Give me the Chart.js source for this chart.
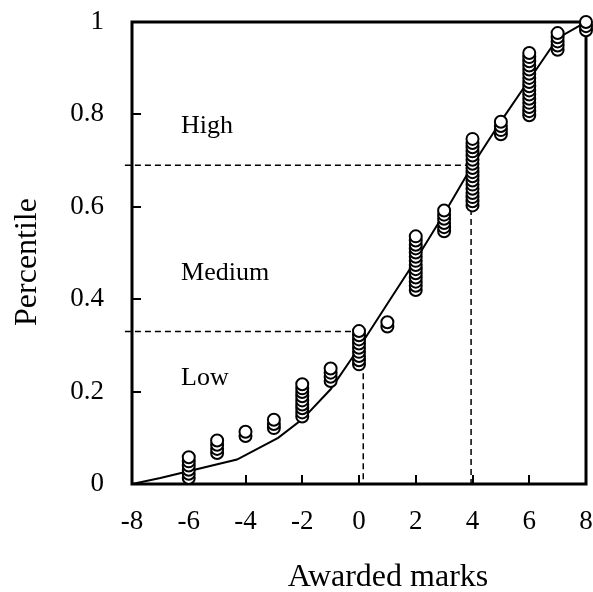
<!DOCTYPE html>
<html>
<head>
<meta charset="utf-8">
<script src="https://cdn.jsdelivr.net/npm/chart.js@4.4.1/dist/chart.umd.min.js"></script>
<style>
  html, body { margin: 0; padding: 0; background: #ffffff; }
  #wrap { width: 593px; height: 592px; }
</style>
</head>
<body>
<div id="wrap"><canvas id="chart" width="593" height="592"></canvas></div>
<script>
// Awarded marks that received at least one response
const marks = [-6, -5, -4, -3, -2, -1, 0, 1, 2, 3, 4, 5, 6, 7, 8];

// Percentile of every individual response, grouped by its awarded mark
const percentiles = [
  [0.013, 0.022, 0.031, 0.040, 0.049, 0.058],
  [0.067, 0.076, 0.085, 0.094],
  [0.104, 0.113],
  [0.121, 0.130, 0.139],
  [0.146, 0.155, 0.164, 0.172, 0.181, 0.190, 0.199, 0.207, 0.216],
  [0.223, 0.232, 0.241, 0.250],
  [0.259, 0.268, 0.277, 0.286, 0.295, 0.304, 0.313, 0.322, 0.331],
  [0.341, 0.350],
  [0.420, 0.429, 0.438, 0.447, 0.456, 0.465, 0.474, 0.483, 0.492, 0.501, 0.510, 0.518, 0.527, 0.536],
  [0.547, 0.556, 0.565, 0.574, 0.583, 0.592],
  [0.603, 0.612, 0.621, 0.630, 0.639, 0.648, 0.657, 0.666, 0.675, 0.684, 0.693, 0.702, 0.711, 0.720, 0.729, 0.738, 0.747],
  [0.757, 0.766, 0.775, 0.784],
  [0.798, 0.807, 0.816, 0.825, 0.834, 0.843, 0.852, 0.861, 0.870, 0.879, 0.888, 0.897, 0.906, 0.915, 0.924, 0.933],
  [0.940, 0.949, 0.958, 0.967, 0.976],
  [0.982, 0.991, 1.000]
];

// Smoothed cumulative distribution curve
const curveX = [-8, -7, -4.3, -2.85, -2, -1, 0, 1, 2, 3, 4, 5, 6, 7, 8];
const curveY = [0, 0.013, 0.053, 0.100, 0.140, 0.205, 0.295, 0.390, 0.485, 0.585, 0.690, 0.785, 0.875, 0.965, 1.000];

// Band boundaries: percentile cut and the mark where it is reached
const cutPercentiles = [0.33, 0.69];
const cutMarks = [0.15, 3.95];
const cutStartMark = -8.25;

// Band names
const bandNames = ['Low', 'Medium', 'High'];

// Axis tick values
const xTicks = [-8, -6, -4, -2, 0, 2, 4, 6, 8];
const yTicks = [0, 0.2, 0.4, 0.6, 0.8, 1];

const FONT = '"Liberation Serif", "Times New Roman", serif';

const responsePoints = [];
marks.forEach((m, i) => {
  percentiles[i].forEach(p => responsePoints.push({ x: m, y: p }));
});

const curvePoints = curveX.map((x, i) => ({ x: x, y: curveY[i] }));

const cutLines = cutPercentiles.map((p, i) => [
  { x: cutStartMark, y: p },
  { x: cutMarks[i], y: p },
  { x: cutMarks[i], y: 0 }
]);

// Frame round the plot area plus inward tick marks
const framePlugin = {
  id: 'frame',
  beforeDatasetsDraw(chart) {
    const { ctx, chartArea: a, scales } = chart;
    ctx.save();
    ctx.strokeStyle = '#000';
    ctx.lineWidth = 3;
    ctx.lineJoin = 'miter';
    ctx.strokeRect(a.left, a.top, a.right - a.left, a.bottom - a.top);
    ctx.lineWidth = 2;
    ctx.beginPath();
    xTicks.forEach(v => {
      const px = Math.round(scales.x.getPixelForValue(v));
      ctx.moveTo(px, a.bottom);
      ctx.lineTo(px, a.bottom - 9);
    });
    yTicks.forEach(v => {
      const py = Math.round(scales.y.getPixelForValue(v));
      ctx.moveTo(a.left, py);
      ctx.lineTo(a.left + 9, py);
    });
    ctx.stroke();
    ctx.restore();
  }
};

// Band names written inside the plot
const bandLabelPlugin = {
  id: 'bandLabels',
  afterDatasetsDraw(chart, args, opts) {
    const { ctx, scales } = chart;
    ctx.save();
    ctx.fillStyle = '#000';
    ctx.font = opts.font;
    ctx.textAlign = 'left';
    ctx.textBaseline = 'alphabetic';
    opts.positions.forEach((pos, i) => {
      ctx.fillText(bandNames[i], scales.x.getPixelForValue(pos.x), scales.y.getPixelForValue(pos.y));
    });
    ctx.restore();
  }
};

// Axis titles
const axisTitlePlugin = {
  id: 'axisTitles',
  afterDraw(chart, args, opts) {
    const { ctx } = chart;
    ctx.save();
    ctx.fillStyle = '#000';
    ctx.font = opts.font;
    ctx.textAlign = 'center';
    ctx.textBaseline = 'alphabetic';
    ctx.fillText(opts.x.text, opts.x.cx, opts.x.baseline);
    ctx.translate(opts.y.baseline, opts.y.cy);
    ctx.rotate(-Math.PI / 2);
    ctx.fillText(opts.y.text, 0, 0);
    ctx.restore();
  }
};

new Chart(document.getElementById('chart'), {
  type: 'scatter',
  data: {
    datasets: [
      {
        label: 'Responses',
        data: responsePoints,
        order: 0,
        pointRadius: 6,
        pointHoverRadius: 6,
        pointBorderWidth: 2,
        pointBackgroundColor: '#ffffff',
        pointBorderColor: '#000000',
        showLine: false,
        clip: false
      },
      {
        label: 'Cumulative',
        type: 'line',
        data: curvePoints,
        order: 1,
        borderColor: '#000000',
        borderWidth: 2,
        pointRadius: 0,
        pointHoverRadius: 0,
        tension: 0,
        fill: false
      },
      {
        label: 'Low cut',
        type: 'line',
        data: cutLines[0],
        order: 2,
        borderColor: '#000000',
        borderWidth: 1.5,
        borderDash: [6, 4],
        pointRadius: 0,
        pointHoverRadius: 0,
        fill: false,
        clip: false
      },
      {
        label: 'High cut',
        type: 'line',
        data: cutLines[1],
        order: 2,
        borderColor: '#000000',
        borderWidth: 1.5,
        borderDash: [6, 4],
        pointRadius: 0,
        pointHoverRadius: 0,
        fill: false,
        clip: false
      }
    ]
  },
  options: {
    responsive: false,
    animation: false,
    events: [],
    layout: { autoPadding: false, padding: { left: 0, right: 7, top: 22, bottom: 0 } },
    scales: {
      x: {
        type: 'linear',
        min: -8,
        max: 8,
        afterBuildTicks(scale) { scale.ticks = xTicks.map(v => ({ value: v })); },
        afterFit(scale) {
          scale.height = 108;
          scale.paddingLeft = 0;
          scale.paddingRight = 0;
        },
        grid: { display: false, drawTicks: false },
        border: { display: false },
        ticks: {
          color: '#000',
          padding: 22,
          font: { family: FONT, size: 27 },
          callback: v => String(v)
        }
      },
      y: {
        type: 'linear',
        min: 0,
        max: 1,
        afterBuildTicks(scale) { scale.ticks = yTicks.map(v => ({ value: v })); },
        afterFit(scale) {
          scale.width = 132;
          scale.paddingTop = 0;
          scale.paddingBottom = 0;
        },
        grid: { display: false, drawTicks: false },
        border: { display: false },
        ticks: {
          color: '#000',
          padding: 28,
          font: { family: FONT, size: 27 },
          callback: v => String(v)
        }
      }
    },
    plugins: {
      legend: { display: false },
      tooltip: { enabled: false },
      bandLabels: {
        font: '26px ' + FONT,
        positions: [
          { x: -6.27, y: 0.214 },
          { x: -6.27, y: 0.442 },
          { x: -6.27, y: 0.760 }
        ]
      },
      axisTitles: {
        font: '32px ' + FONT,
        x: { text: 'Awarded marks', cx: 388, baseline: 586 },
        y: { text: 'Percentile', cy: 262, baseline: 36 }
      }
    }
  },
  plugins: [framePlugin, bandLabelPlugin, axisTitlePlugin]
});
</script>
</body>
</html>
